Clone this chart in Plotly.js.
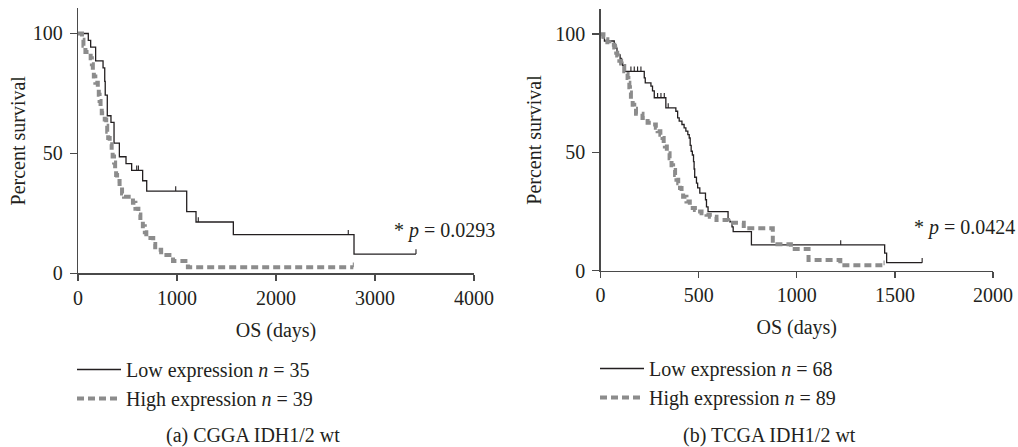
<!DOCTYPE html>
<html><head><meta charset="utf-8">
<script src="https://cdn.plot.ly/plotly-3.0.1.min.js"></script>
<style>html,body{margin:0;padding:0;background:#fff}#chart{width:1018px;height:447px}</style>
</head><body><div id="chart"></div>
<script>
// ---- (a) CGGA IDH1/2 wt ----
const lowA_days = [0, 104, 128, 178, 253, 270, 275, 296, 333, 364, 418, 485, 542, 653, 694, 1098, 1192, 1569, 2788, 3414];
const lowA_surv = [100, 97.1, 94.3, 88.6, 85.7, 80.0, 74.3, 65.7, 62.9, 54.3, 48.6, 45.7, 42.9, 38.6, 34.3, 25.7, 21.4, 16.1, 8.0, 8.0];
const lowA_censor = [593, 610, 987, 1215, 2730, 3414];

const highA_days = [0, 40, 55, 75, 128, 140, 150, 160, 175, 200, 210, 218, 228, 240, 270, 285, 295, 305, 320, 340, 350, 364, 375, 385, 395, 420, 445, 465, 555, 580, 610, 630, 655, 675, 690, 760, 780, 840, 960, 1110, 2781];
const highA_surv = [100, 97.4, 94.9, 92.3, 89.7, 87.2, 84.6, 82.1, 79.5, 76.9, 74.4, 71.8, 69.2, 66.7, 64.1, 61.5, 59.0, 56.4, 53.8, 51.3, 48.7, 46.2, 43.6, 41.0, 38.5, 35.9, 33.3, 31.9, 29.4, 26.9, 24.5, 22.0, 19.6, 17.1, 14.7, 12.2, 9.8, 7.6, 5.1, 2.5, 2.5];
const highA_censor = [2781];

// ---- (b) TCGA IDH1/2 wt ----
const lowB_days = [0, 10, 20, 70, 78, 84, 90, 100, 107, 113, 125, 223, 228, 257, 265, 274, 333, 384, 393, 401, 415, 426, 435, 445, 452, 457, 462, 468, 474, 477, 480, 489, 495, 506, 535, 540, 548, 650, 659, 670, 676, 769, 1448, 1458, 1639];
const lowB_surv = [100, 98.5, 97.1, 95.6, 94.1, 92.6, 91.2, 89.7, 88.2, 86.8, 84.3, 81.5, 79.4, 78.0, 76.0, 73.1, 68.8, 67.4, 64.6, 63.2, 61.8, 60.4, 59.0, 57.5, 56.1, 53.0, 50.5, 48.9, 46.1, 43.0, 39.5, 37.0, 35.0, 32.8, 30.0, 27.0, 25.0, 21.4, 20.7, 18.5, 16.5, 10.9, 7.4, 3.4, 3.4];
const lowB_censor = [155, 172, 189, 206, 291, 308, 325, 345, 1224, 1639];

const highB_days = [0, 15, 25, 35, 45, 70, 75, 80, 85, 90, 96, 105, 113, 121, 130, 138, 142, 147, 150, 155, 164, 172, 181, 214, 240, 257, 282, 291, 305, 316, 322, 328, 338, 345, 352, 362, 370, 380, 387, 396, 405, 413, 421, 438, 455, 470, 481, 489, 515, 540, 557, 591, 650, 730, 878, 970, 1060, 1222, 1445];
const highB_surv = [100, 98.9, 97.8, 96.6, 95.5, 94.4, 93.3, 92.1, 91.0, 89.9, 88.8, 87.6, 86.5, 84.3, 83.1, 81.5, 79.4, 77.5, 75.3, 72.3, 70.2, 68.5, 66.3, 64.6, 62.5, 61.8, 60.4, 59.0, 57.5, 56.1, 54.0, 52.5, 50.5, 49.7, 47.5, 44.6, 42.6, 40.5, 38.4, 37.0, 35.0, 32.7, 31.3, 29.2, 27.8, 26.5, 25.7, 25.0, 24.3, 23.6, 22.8, 21.4, 20.3, 17.9, 11.2, 9.2, 4.5, 2.3, 2.3];
const highB_censor = [1445];

const xTicksA = [0, 1000, 2000, 3000, 4000];
const xTicksB = [0, 500, 1000, 1500, 2000];
const yTicks = [0, 50, 100];

const legendNames = {
  lowA: 'Low expression <i>n</i> = 35', highA: 'High expression <i>n</i> = 39',
  lowB: 'Low expression <i>n</i> = 68', highB: 'High expression <i>n</i> = 89'
};
const pText = {a: '* <i>p</i> = 0.0293', b: '* <i>p</i> = 0.0424'};
const captions = {a: '(a) CGGA IDH1/2 wt', b: '(b) TCGA IDH1/2 wt'};
const xTitle = 'OS (days)', yTitle = 'Percent survival';

const BLACK = '#231f20', GRAY = '#8c8c8c', AXIS = '#4a4a4a';
const FONT = '"Liberation Serif", "Times New Roman", Times, serif';
const TXT = {family: FONT, size: 20, color: BLACK};

function stepAt(days, surv, t) {
  let v = surv[0];
  for (let i = 0; i < days.length; i++) if (days[i] <= t) v = surv[i];
  return v;
}
function curve(days, surv, name, legend, xa, ya, isHigh) {
  return {
    x: days, y: surv, type: 'scatter', mode: 'lines', name: name, legend: legend,
    xaxis: xa, yaxis: ya, hoverinfo: 'skip',
    line: isHigh ? {shape: 'hv', color: GRAY, width: 4, dash: '7px,4px'} : {shape: 'hv', color: BLACK, width: 1.3}
  };
}
function censor(cens, days, surv, xa, ya, color) {
  return {
    x: cens, y: cens.map(t => stepAt(days, surv, t)), type: 'scatter', mode: 'markers',
    xaxis: xa, yaxis: ya, showlegend: false, hoverinfo: 'skip', cliponaxis: false,
    marker: {size: 1, color: 'rgba(0,0,0,0)'},
    error_y: {type: 'constant', symmetric: false, value: 2, valueminus: 0, width: 0, thickness: 1.1, color: color}
  };
}

const data = [
  curve(lowA_days, lowA_surv, legendNames.lowA, 'legend', 'x', 'y', false),
  curve(highA_days, highA_surv, legendNames.highA, 'legend', 'x', 'y', true),
  censor(lowA_censor, lowA_days, lowA_surv, 'x', 'y', BLACK),
  censor(highA_censor, highA_days, highA_surv, 'x', 'y', GRAY),
  curve(lowB_days, lowB_surv, legendNames.lowB, 'legend2', 'x2', 'y2', false),
  curve(highB_days, highB_surv, legendNames.highB, 'legend2', 'x2', 'y2', true),
  censor(lowB_censor, lowB_days, lowB_surv, 'x2', 'y2', BLACK),
  censor(highB_censor, highB_days, highB_surv, 'x2', 'y2', GRAY)
];

function xAxis(dom, rng, ticks, anchor) {
  return {domain: dom, range: rng, tickvals: ticks, anchor: anchor, showline: true, linecolor: AXIS, linewidth: 1.3,
    ticks: 'outside', ticklen: 6, tickwidth: 1.3, tickcolor: AXIS, showgrid: false, zeroline: false, fixedrange: true,
    tickfont: TXT, title: {text: xTitle, standoff: 15, font: TXT}};
}
function yAxis(dom, ticks, anchor, standoff) {
  return {domain: dom, range: [0, 110.5], tickvals: ticks, anchor: anchor, showline: true, linecolor: AXIS, linewidth: 1.3,
    ticks: 'outside', ticklen: 7, tickwidth: 1.3, tickcolor: AXIS, showgrid: false, zeroline: false, fixedrange: true,
    tickfont: TXT, ticklabelstandoff: 3, title: {text: yTitle, standoff: standoff, font: TXT}};
}
const legendStyle = {xanchor: 'left', yanchor: 'top', bgcolor: 'rgba(0,0,0,0)', borderwidth: 0, itemwidth: 44,
  tracegroupgap: 0, font: TXT, itemclick: false, itemdoubleclick: false};

const layout = {
  width: 1018, height: 447, margin: {l: 0, r: 0, t: 0, b: 0, autoexpand: false},
  paper_bgcolor: '#ffffff', plot_bgcolor: 'rgba(0,0,0,0)',
  font: TXT,
  showlegend: true,
  xaxis: xAxis([78 / 1018, 474 / 1018], [0, 4000], xTicksA, 'y'),
  yaxis: yAxis([1 - 273.3 / 447, 1 - 8.3 / 447], yTicks, 'x', 1),
  xaxis2: xAxis([600.5 / 1018, 993 / 1018], [0, 2000], xTicksB, 'y2'),
  yaxis2: yAxis([1 - 270.7 / 447, 1 - 9.3 / 447], yTicks, 'x2', 8),
  legend: Object.assign({x: 72 / 1018, y: 1 - 350 / 447}, legendStyle),
  legend2: Object.assign({x: 595 / 1018, y: 1 - 349 / 447}, legendStyle),
  annotations: [
    {text: pText.a, xref: 'paper', yref: 'paper', x: 392 / 1018, y: 1 - 230 / 447, xanchor: 'left', yanchor: 'middle', showarrow: false},
    {text: pText.b, xref: 'paper', yref: 'paper', x: 912 / 1018, y: 1 - 227 / 447, xanchor: 'left', yanchor: 'middle', showarrow: false},
    {text: captions.a, xref: 'paper', yref: 'paper', x: 252.5 / 1018, y: 1 - 435 / 447, xanchor: 'center', yanchor: 'middle', showarrow: false},
    {text: captions.b, xref: 'paper', yref: 'paper', x: 769 / 1018, y: 1 - 435 / 447, xanchor: 'center', yanchor: 'middle', showarrow: false}
  ]
};

Plotly.newPlot('chart', data, layout, {staticPlot: true, displayModeBar: false});
</script>
</body></html>
